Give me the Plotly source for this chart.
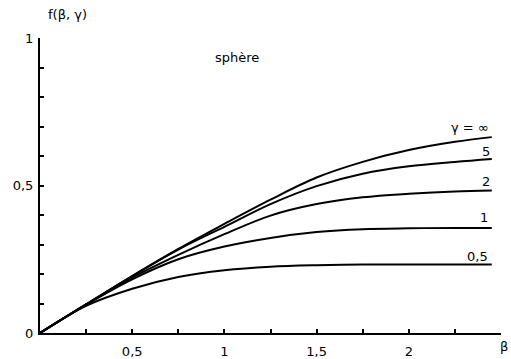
import plotly.graph_objects as go

beta = [0, 0.25, 0.5, 0.75, 1.0, 1.25, 1.5, 1.75, 2.0, 2.25, 2.45]
f_inf = [0, 0.097, 0.193, 0.285, 0.37, 0.452, 0.527, 0.58, 0.62, 0.648, 0.664]
f_5 = [0, 0.097, 0.193, 0.283, 0.36, 0.437, 0.498, 0.54, 0.565, 0.58, 0.59]
f_2 = [0, 0.097, 0.188, 0.265, 0.335, 0.398, 0.437, 0.46, 0.472, 0.48, 0.483]
f_1 = [0, 0.096, 0.182, 0.25, 0.293, 0.322, 0.342, 0.352, 0.355, 0.356, 0.356]
f_05 = [0, 0.092, 0.15, 0.19, 0.213, 0.225, 0.23, 0.232, 0.232, 0.232, 0.232]

series = [("γ = ∞", f_inf), ("5", f_5), ("2", f_2), ("1", f_1), ("0,5", f_05)]

x_tickvals = [0.25, 0.5, 0.75, 1, 1.25, 1.5, 1.75, 2, 2.25, 2.5]
x_ticktext = ["", "0,5", "", "1", "", "1,5", "", "2", "", ""]
y_tickvals = [0, 0.1, 0.2, 0.3, 0.4, 0.5, 0.6, 0.7, 0.8, 0.9, 1]
y_ticktext = ["0", "", "", "", "", "0,5", "", "", "", "", "1"]

font = dict(family="DejaVu Sans", size=13, color="black")

fig = go.Figure()
for name, ys in series:
    fig.add_trace(go.Scatter(x=beta, y=ys, mode="lines", name=name,
                             line=dict(color="black", width=2, shape="spline", smoothing=1.0),
                             showlegend=False, hoverinfo="skip"))

# curve labels
label_pos = {"γ = ∞": (2.33, 0.698), "5": (2.42, 0.614), "2": (2.42, 0.512), "1": (2.41, 0.39), "0,5": (2.375, 0.258)}
for name, ys in series:
    x, y = label_pos[name]
    fig.add_annotation(x=x, y=y, text=name, showarrow=False, xref="x", yref="y",
                       xanchor="center", yanchor="middle", font=font)

fig.add_annotation(x=0.012, y=1.078, text="f(β, γ)", showarrow=False, xref="paper", yref="paper",
                   xanchor="left", yanchor="middle", font=font)
fig.add_annotation(x=1.07, y=0.935, text="sphère", showarrow=False, xref="x", yref="y",
                   xanchor="center", yanchor="middle", font=font)
fig.add_annotation(x=1.006, y=-0.045, text="β", showarrow=False, xref="paper", yref="paper",
                   xanchor="center", yanchor="middle", font=font)

fig.update_xaxes(range=[0, 2.5], showline=True, linecolor="black", linewidth=2,
                 ticks="inside", ticklen=4, tickwidth=2, tickcolor="black",
                 tickvals=x_tickvals, ticktext=x_ticktext, showgrid=False,
                 zeroline=False, tickfont=font, ticklabelstandoff=5, automargin=False)
fig.update_yaxes(range=[0, 1], showline=True, linecolor="black", linewidth=2,
                 ticks="inside", ticklen=4, tickwidth=2, tickcolor="black",
                 tickvals=y_tickvals, ticktext=y_ticktext, showgrid=False,
                 zeroline=False, tickfont=font, ticklabelstandoff=2, automargin=False)

fig.update_layout(width=511, height=359, margin=dict(l=40, r=10, t=38, b=26),
                  plot_bgcolor="white", paper_bgcolor="white")

fig.write_html("out.html")
